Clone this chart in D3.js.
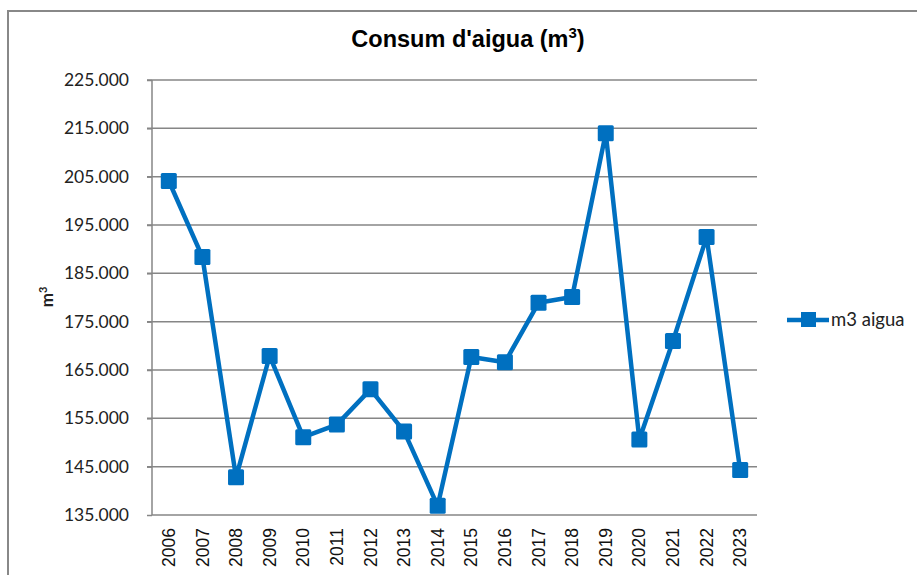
<!DOCTYPE html>
<html><head><meta charset="utf-8">
<script src="https://cdn.jsdelivr.net/npm/d3@7"></script>
<style>body{margin:0;background:#fff}svg{display:block}</style>
</head><body>
<script>
const years = ["2006","2007","2008","2009","2010","2011","2012","2013","2014","2015","2016","2017","2018","2019","2020","2021","2022","2023"];
const consum = [204100,188400,142800,167900,151100,153700,161000,152300,136900,167700,166600,178900,180100,214000,150600,171000,192500,144300];
const yTicks = [135000,145000,155000,165000,175000,185000,195000,205000,215000,225000];
const seriesName = "m3 aigua";

(function () {
const W = 917, H = 575;
const svg = d3.select("body").append("svg").attr("width", W).attr("height", H);
const pL = 152, pR = 757, pT = 80, pB = 515;

// outer border
svg.append("rect").attr("x", 8).attr("y", 11).attr("width", 930).attr("height", 600)
  .attr("fill", "none").attr("stroke", "#888").attr("stroke-width", 2);

const x = d3.scaleBand().domain(years).range([pL, pR]);
const y = d3.scaleLinear().domain([135000, 225000]).range([pB, pT]);

// gridlines
svg.append("g").selectAll("line").data(yTicks.filter(d => d > 135000)).join("line")
  .attr("x1", pL - 5).attr("x2", pR).attr("y1", d => y(d)).attr("y2", d => y(d))
  .attr("stroke", "#868686").attr("stroke-width", 1.5);

// y axis
const fmt = d => d3.format(",")(d).replace(/,/g, ".");
const ya = svg.append("g").attr("transform", `translate(${pL},0)`)
  .call(d3.axisLeft(y).tickValues(yTicks).tickFormat(fmt).tickSize(5).tickPadding(18));
ya.select(".domain").attr("stroke", "#868686").attr("stroke-width", 1.5).attr("d", `M0,${pT}V${pB}`);
ya.selectAll(".tick line").attr("stroke", "#868686").attr("stroke-width", 1.5);
ya.selectAll(".tick text").attr("font-family", "Lato, 'Open Sans', sans-serif").attr("font-size", 17.5).attr("fill", "#222");

// x axis
const xa = svg.append("g").attr("transform", `translate(0,${pB})`)
  .call(d3.axisBottom(x).tickSize(0));
xa.select(".domain").attr("stroke", "#868686").attr("stroke-width", 1.5).attr("d", `M${pL},0H${pR}`);
xa.selectAll(".tick text").attr("font-family", "'Liberation Sans', Arial, sans-serif").attr("font-size", 17.5).attr("fill", "#111")
  .attr("transform", "rotate(-90)").attr("text-anchor", "end").attr("x", -13).attr("y", 0).attr("dy", "0.35em");

// line
const line = d3.line().x((d, i) => x(years[i]) + x.bandwidth() / 2).y(d => y(d));
svg.append("path").datum(consum).attr("d", line).attr("fill", "none")
  .attr("stroke", "#0070C0").attr("stroke-width", 4.5).attr("stroke-linejoin", "round");
svg.append("g").selectAll("rect").data(consum).join("rect")
  .attr("x", (d, i) => x(years[i]) + x.bandwidth() / 2 - 8).attr("y", d => y(d) - 8)
  .attr("width", 16).attr("height", 16).attr("rx", 1.5).attr("fill", "#0070C0");

// title
const t = svg.append("text").attr("x", 468).attr("y", 47).attr("text-anchor", "middle")
  .attr("font-family", "'Liberation Sans', Arial, sans-serif").attr("font-weight", "bold").attr("font-size", 23.5).attr("fill", "#000");
t.append("tspan").text("Consum d'aigua (m");
t.append("tspan").text("3").attr("font-size", 15).attr("dy", -9);
t.append("tspan").text(")").attr("dy", 9);

// y axis title
const yt = svg.append("text").attr("transform", "translate(53,297) rotate(-90)").attr("text-anchor", "middle")
  .attr("font-family", "Lato, 'Open Sans', sans-serif").attr("font-weight", "bold").attr("font-size", 17).attr("fill", "#222");
yt.append("tspan").text("m");
yt.append("tspan").text("3").attr("font-size", 11).attr("dy", -6);

// legend
const lg = svg.append("g").attr("transform", "translate(787,320)");
lg.append("line").attr("x1", 0).attr("x2", 42).attr("stroke", "#0070C0").attr("stroke-width", 4.5);
lg.append("rect").attr("x", 14).attr("y", -8).attr("width", 15).attr("height", 15).attr("fill", "#0070C0");
lg.append("text").attr("x", 44).attr("y", 0).attr("dy", "0.35em").text(seriesName)
  .attr("font-family", "Lato, 'Open Sans', sans-serif").attr("font-size", 18.5).attr("fill", "#222");
})();
</script>
</body></html>
